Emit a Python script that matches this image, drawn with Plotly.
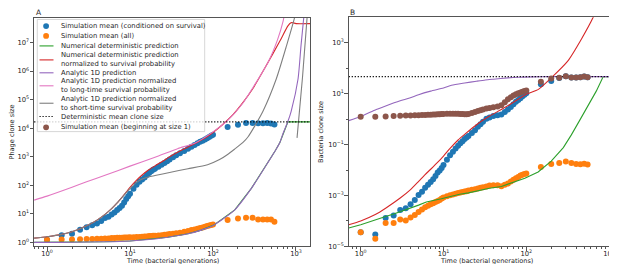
import plotly.graph_objects as go

# ---------------- data ----------------
# simulation sample times (bacterial generations)
t_sim = [1, 1.5, 2, 2.5, 3, 3.5, 4, 4.5, 5, 5.5, 6, 6.5, 7, 7.5, 8, 8.5, 9, 9.5, 10,
         11, 12, 13, 14, 15, 16, 17, 18, 19, 20,
         22, 24, 26, 28, 30,
         33, 36, 40,
         45, 50, 55, 60, 65, 70, 75, 80, 85, 90, 95, 100,
         150, 200, 250, 300, 350, 400, 450, 500, 550]

# Panel A (phage clone size), values stored as log10
a_blue_log = [0.09, 0.25, 0.30, 0.44, 0.53, 0.60, 0.66, 0.75, 0.85, 0.90, 0.98, 1.05, 1.13, 1.20, 1.28, 1.40, 1.52, 1.62, 1.70,
              1.88, 2.02, 2.12, 2.20, 2.27, 2.36, 2.43, 2.49, 2.54, 2.58,
              2.65, 2.72, 2.78, 2.84, 2.90,
              2.98, 3.05, 3.12,
              3.20, 3.28, 3.35, 3.41, 3.47, 3.52, 3.56, 3.60, 3.65, 3.69, 3.73, 3.77,
              4.04, 4.12, 4.18, 4.18, 4.17, 4.17, 4.18, 4.16, 4.13]
a_orange_log = [0.09, 0.10, 0.10, 0.11, 0.12, 0.12, 0.13, 0.13, 0.14, 0.14, 0.15, 0.15, 0.16, 0.16, 0.16, 0.17, 0.17, 0.17, 0.18,
                0.18, 0.19, 0.19, 0.20, 0.21, 0.21, 0.22, 0.22, 0.23, 0.23,
                0.24, 0.25, 0.27, 0.28, 0.29,
                0.30, 0.32, 0.34,
                0.37, 0.40, 0.43, 0.45, 0.48, 0.50, 0.52, 0.55, 0.57, 0.59, 0.61, 0.63,
                0.78, 0.84, 0.86, 0.86, 0.80, 0.80, 0.80, 0.80, 0.72]

a_green_t = [0.7, 1, 2, 5, 10, 20, 28.6, 50, 72, 104, 183, 290, 460, 560, 640, 700, 800, 1480]
a_green_log = [0.0, 0.0, 0.005, 0.02, 0.05, 0.12, 0.18, 0.30, 0.43, 0.62, 1.14, 1.89, 2.80, 3.20, 3.50, 3.82, 4.22, 4.22]

a_red_t = [0.7, 1, 1.5, 2, 3, 4, 5, 6, 7, 8, 9, 10, 12, 14, 17, 20, 25, 30, 40, 60, 80, 100,
           130, 174, 230, 300, 440, 640, 800, 870, 920, 1000, 1480]
a_red_log = [0.15, 0.20, 0.28, 0.37, 0.58, 0.78, 0.98, 1.18, 1.38, 1.58, 1.76, 1.93, 2.18, 2.36, 2.55, 2.68, 2.85, 3.00, 3.20, 3.45, 3.65, 3.85,
             4.12, 4.47, 4.90, 5.37, 6.20, 7.05, 7.58, 7.69, 7.69, 7.66, 7.66]

a_purple_t = [0.7, 1, 2, 5, 10, 20, 28.6, 50, 72, 104, 183, 290, 460, 560, 640, 700, 800, 875, 1060, 1150, 1240, 1290]
a_purple_log = [0.0, 0.0, 0.005, 0.02, 0.05, 0.12, 0.18, 0.30, 0.43, 0.62, 1.14, 1.89, 2.80, 3.20, 3.50, 3.82, 4.24, 4.59, 5.73, 6.89, 7.86, 8.4]

a_pink_t = [0.7, 1, 2, 3, 5, 10, 20, 38, 60, 100, 150, 230, 300, 460, 600, 700, 760]
a_pink_log = [1.48, 1.62, 1.93, 2.12, 2.35, 2.67, 2.98, 3.29, 3.47, 3.87, 4.27, 4.88, 5.40, 6.30, 7.10, 7.75, 8.30]

a_gray_t = [0.7, 1, 1.5, 2, 3, 4, 5, 6, 7, 8, 9, 10, 12, 14, 17, 20, 30, 50, 86, 120, 150, 183, 230, 265, 318,
            400, 580, 770, 960, 1010, None, 1030, 1200, 1360]
a_gray_log = [0.15, 0.20, 0.28, 0.37, 0.58, 0.78, 0.98, 1.18, 1.38, 1.57, 1.74, 1.88, 2.10, 2.22, 2.30, 2.34, 2.45, 2.58, 2.72, 2.90, 3.08, 3.27, 3.50, 3.70, 4.07,
              4.59, 5.73, 6.89, 7.86, 8.20, None, 3.66, 5.80, 7.86]

a_mean_t = [0.7, 1480]
a_mean_log = [4.22, 4.22]

# Panel B (bacteria clone size), values stored as log10
b_blue_log = [-4.45, -4.53, -3.89, -3.79, -3.57, -3.50, -3.35, -3.18, -2.98, -2.85, -2.70, -2.58, -2.47, -2.36, -2.24, -2.10, -2.02, -1.92, -1.80,
              -1.60, -1.42, -1.28, -1.15, -1.05, -0.95, -0.87, -0.78, -0.72, -0.66,
              -0.55, -0.44, -0.30, -0.20, -0.10,
              0.01, 0.06, 0.12,
              0.15, 0.18, 0.28, 0.38, 0.48, 0.58, 0.68, 0.75, 0.82, 0.90, 0.96, 1.02,
              1.37, 1.50, 1.62, 1.69, 1.64, 1.64, 1.65, 1.68, 1.65]
b_orange_log = [-4.45, -4.70, -4.08, -4.08, -3.95, -3.98, -3.87, -3.77, -3.65, -3.55, -3.46, -3.40, -3.35, -3.31, -3.26, -3.22, -3.18, -3.12, -3.08,
                -3.03, -2.99, -2.96, -2.93, -2.90, -2.88, -2.86, -2.84, -2.83, -2.81,
                -2.78, -2.76, -2.73, -2.70, -2.68,
                -2.65, -2.61, -2.60,
                -2.60, -2.64, -2.58, -2.53, -2.45, -2.38, -2.32, -2.27, -2.22, -2.19, -2.16, -2.14,
                -1.88, -1.76, -1.72, -1.67, -1.72, -1.76, -1.77, -1.75, -1.78]
b_brown_log = [0.09, 0.09, 0.10, 0.12, 0.13, 0.14, 0.14, 0.15, 0.15, 0.16, 0.16, 0.17, 0.17, 0.18, 0.18, 0.19, 0.19, 0.20, 0.20,
               0.21, 0.21, 0.21, 0.21, 0.21, 0.20, 0.20, 0.19, 0.19, 0.20,
               0.24, 0.28, 0.32, 0.35, 0.38,
               0.42, 0.44, 0.47,
               0.50, 0.55, 0.66, 0.78, 0.86, 0.93, 0.98, 1.02, 1.05, 1.08, 1.11, 1.13,
               1.47, 1.60, 1.63, 1.69, 1.64, 1.64, 1.65, 1.68, 1.65]

b_green_t = [0.716, 1, 2, 2.5, 5, 6.2, 9.4, 15.7, 20, 36, 50, 96, 139, 200, 280, 350, 450, 560, 700, 850, 1520]
b_green_log = [-4.28, -4.15, -3.83, -3.73, -3.38, -3.26, -3.13, -2.95, -2.90, -2.72, -2.65, -2.32, -2.08, -1.65, -1.12, -0.62, 0.0, 0.55, 1.10, 1.67, 1.67]

b_red_t = [0.716, 1, 1.5, 2, 3, 4, 5, 6, 7, 8, 10, 12, 15, 18, 25, 36, 50, 70, 100, 140, 200, 320, 464, 640, 700]
b_red_log = [-4.15, -4.00, -3.75, -3.50, -3.10, -2.77, -2.45, -2.18, -1.97, -1.78, -1.45, -1.15, -0.82, -0.60, -0.22, 0.12, 0.38, 0.66, 0.98, 1.17, 1.62, 2.30, 3.15, 3.99, 4.30]

b_purple_t = [0.716, 1, 1.54, 2, 3, 3.9, 5, 7, 10, 12.5, 18, 25, 32, 40, 60, 80, 120, 200, 1520]
b_purple_log = [-0.06, 0.10, 0.38, 0.52, 0.72, 0.83, 0.96, 1.10, 1.22, 1.33, 1.42, 1.49, 1.54, 1.57, 1.62, 1.645, 1.66, 1.67, 1.67]

b_mean_t = [0.716, 1520]
b_mean_log = [1.67, 1.67]

# tick labels
x_tickvals = [1, 10, 100, 1000]
x_ticktext = ["10<sup>0</sup>", "10<sup>1</sup>", "10<sup>2</sup>", "10<sup>3</sup>"]
a_y_tickvals = [1, 10, 100, 1e3, 1e4, 1e5, 1e6, 1e7]
a_y_ticktext = ["10<sup>%d</sup>" % k for k in range(8)]
b_y_tickvals = [1e-5, 1e-3, 1e-1, 1e1, 1e3]
b_y_ticktext = ["10<sup>\u22125</sup>", "10<sup>\u22123</sup>", "10<sup>\u22121</sup>", "10<sup>1</sup>", "10<sup>3</sup>"]

x_title = "Time (bacterial generations)"
a_y_title = "Phage clone size"
b_y_title = "Bacteria clone size"

legend_labels = [
    "Simulation mean (conditioned on survival)",
    "Simulation mean (all)",
    "Numerical deterministic prediction",
    "Numerical deterministic prediction<br>normalized to survival probability",
    "Analytic 1D prediction",
    "Analytic 1D prediction normalized<br>to long-time survival probability",
    "Analytic 1D prediction normalized<br>to short-time survival probability",
    "Deterministic mean clone size",
    "Simulation mean (beginning at size 1)",
]

# ---------------- style ----------------
C_BLUE, C_ORANGE, C_GREEN, C_RED = "#1f77b4", "#ff7f0e", "#2ca02c", "#d62728"
C_PURPLE, C_BROWN, C_PINK, C_GRAY = "#9467bd", "#8c564b", "#e377c2", "#7f7f7f"
FONT = "DejaVu Sans"
TXT = "#262626"
W, H = 617, 264
DOT_DASH = "1.2px,1.8px"


def pw(v):
    return [None if x is None else 10 ** x for x in v]


fig = go.Figure()


def line(t, v, color, xa, ya, dash="solid", shape="spline"):
    fig.add_trace(go.Scatter(x=t, y=pw(v), mode="lines", xaxis=xa, yaxis=ya,
                             line=dict(color=color, width=1.1, dash=dash, shape=shape, smoothing=0.6),
                             connectgaps=False, showlegend=False, hoverinfo="skip"))


def dots(t, v, color, xa, ya):
    fig.add_trace(go.Scatter(x=t, y=pw(v), mode="markers", xaxis=xa, yaxis=ya,
                             marker=dict(color=color, size=6, line=dict(width=0)),
                             showlegend=False, hoverinfo="skip"))


# Panel A
dots(t_sim, a_blue_log, C_BLUE, "x", "y")
dots(t_sim, a_orange_log, C_ORANGE, "x", "y")
line(a_green_t, a_green_log, C_GREEN, "x", "y", shape="linear")
line(a_red_t, a_red_log, C_RED, "x", "y")
line(a_purple_t, a_purple_log, C_PURPLE, "x", "y")
line(a_pink_t, a_pink_log, C_PINK, "x", "y")
line(a_gray_t, a_gray_log, C_GRAY, "x", "y")
line(a_mean_t, a_mean_log, "#000000", "x", "y", dash=DOT_DASH, shape="linear")

# Panel B
dots(t_sim, b_blue_log, C_BLUE, "x2", "y2")
dots(t_sim, b_orange_log, C_ORANGE, "x2", "y2")
line(b_green_t, b_green_log, C_GREEN, "x2", "y2", shape="linear")
line(b_red_t, b_red_log, C_RED, "x2", "y2")
line(b_purple_t, b_purple_log, C_PURPLE, "x2", "y2")
line(b_mean_t, b_mean_log, "#000000", "x2", "y2", dash=DOT_DASH, shape="linear")
dots(t_sim, b_brown_log, C_BROWN, "x2", "y2")

x_minor = [k * 10 ** d for d in range(-1, 4) for k in range(2, 10)]

axis_common = dict(type="log", showgrid=False, zeroline=False, showline=True, mirror=True,
                   linecolor="#555555", linewidth=1, ticks="outside", ticklen=3.5, tickwidth=0.8,
                   tickcolor="#555555", tickfont=dict(family=FONT, size=6.8, color=TXT))
x_minor_style = dict(tickmode="array", tickvals=x_minor, ticks="outside", ticklen=2,
                     tickcolor="#555555", tickwidth=0.6)

fig.update_layout(
    width=W, height=H, margin=dict(l=0, r=0, t=0, b=0),
    paper_bgcolor="white", plot_bgcolor="white", showlegend=False,
    xaxis=dict(axis_common, domain=[26 / W, 302 / W], range=[-0.157, 3.169], anchor="y",
               tickmode="array", tickvals=x_tickvals, ticktext=x_ticktext, ticklabelstandoff=-3,
               minor=x_minor_style),
    yaxis=dict(axis_common, domain=[1 - 242 / H, 1 - 10 / H], range=[-0.138, 7.862], anchor="x",
               tickmode="array", tickvals=a_y_tickvals, ticktext=a_y_ticktext, ticklabelstandoff=-1),
    xaxis2=dict(axis_common, domain=[340.7 / W, 616 / W], range=[-0.145, 3.18], anchor="y2",
                tickmode="array", tickvals=x_tickvals, ticktext=x_ticktext, ticklabelstandoff=-3,
                minor=x_minor_style),
    yaxis2=dict(axis_common, domain=[1 - 242 / H, 1 - 9.5 / H], range=[-5, 4.0], anchor="x2",
                tickmode="array", tickvals=b_y_tickvals, ticktext=b_y_ticktext, ticklabelstandoff=-1,
                minor=dict(tickmode="array", tickvals=[1e-4, 1e-2, 1, 1e2], ticks="outside", ticklen=2,
                           tickcolor="#555555", tickwidth=0.6)),
)


def px(xp):
    return xp / W


def py(yp):
    return 1 - yp / H


def note(text, x, y, size=6.8, xanchor="center", angle=0, align="center", pad=1):
    fig.add_annotation(text=text, x=px(x), y=py(y), xref="paper", yref="paper", xanchor=xanchor,
                       yanchor="middle", showarrow=False, textangle=angle, align=align, borderpad=pad,
                       font=dict(family=FONT, size=size, color=TXT))


# axis titles
note(x_title, 164, 257.0, size=6.5, pad=0)
note(x_title, 478, 257.0, size=6.5, pad=0)
note(a_y_title, 4.5, 126, size=6.6, angle=-90, pad=0)
note(b_y_title, 313, 126, size=6.6, angle=-90, pad=0)

# panel letters
note("A", 27, 4.5, size=7.5, xanchor="left", pad=0)
note("B", 341, 4.5, size=7.5, xanchor="left", pad=0)

# ---- legend of panel A (drawn as a box with samples and text) ----
fig.add_shape(type="rect", xref="paper", yref="paper", x0=px(29.3), x1=px(196.7), y0=py(125.5), y1=py(11.7),
              line=dict(color="#cccccc", width=0.8), fillcolor="rgba(255,255,255,0.8)", layer="above")

legend_kind = ["dot", "dot", "line", "line", "line", "line", "line", "dotline", "dot"]
legend_color = [C_BLUE, C_ORANGE, C_GREEN, C_RED, C_PURPLE, C_PINK, C_GRAY, "#000000", C_BROWN]
legend_y = [18.3, 28.4, 38.5, 52.7, 65.8, 79.0, 96.7, 110.2, 121.2]

for lab, kind, col, yc in zip(legend_labels, legend_kind, legend_color, legend_y):
    if kind == "dot":
        fig.add_shape(type="circle", xref="paper", yref="paper", x0=px(35.2), x1=px(41.0),
                      y0=py(yc + 2.9), y1=py(yc - 2.9), fillcolor=col, line=dict(width=0), layer="above")
    else:
        fig.add_shape(type="line", xref="paper", yref="paper", x0=px(31.5), x1=px(45.5), y0=py(yc), y1=py(yc),
                      line=dict(color=col, width=1.1, dash=DOT_DASH if kind == "dotline" else "solid"),
                      layer="above")
    note(lab, 51, yc, xanchor="left", align="left")

fig.write_html("out.html")
